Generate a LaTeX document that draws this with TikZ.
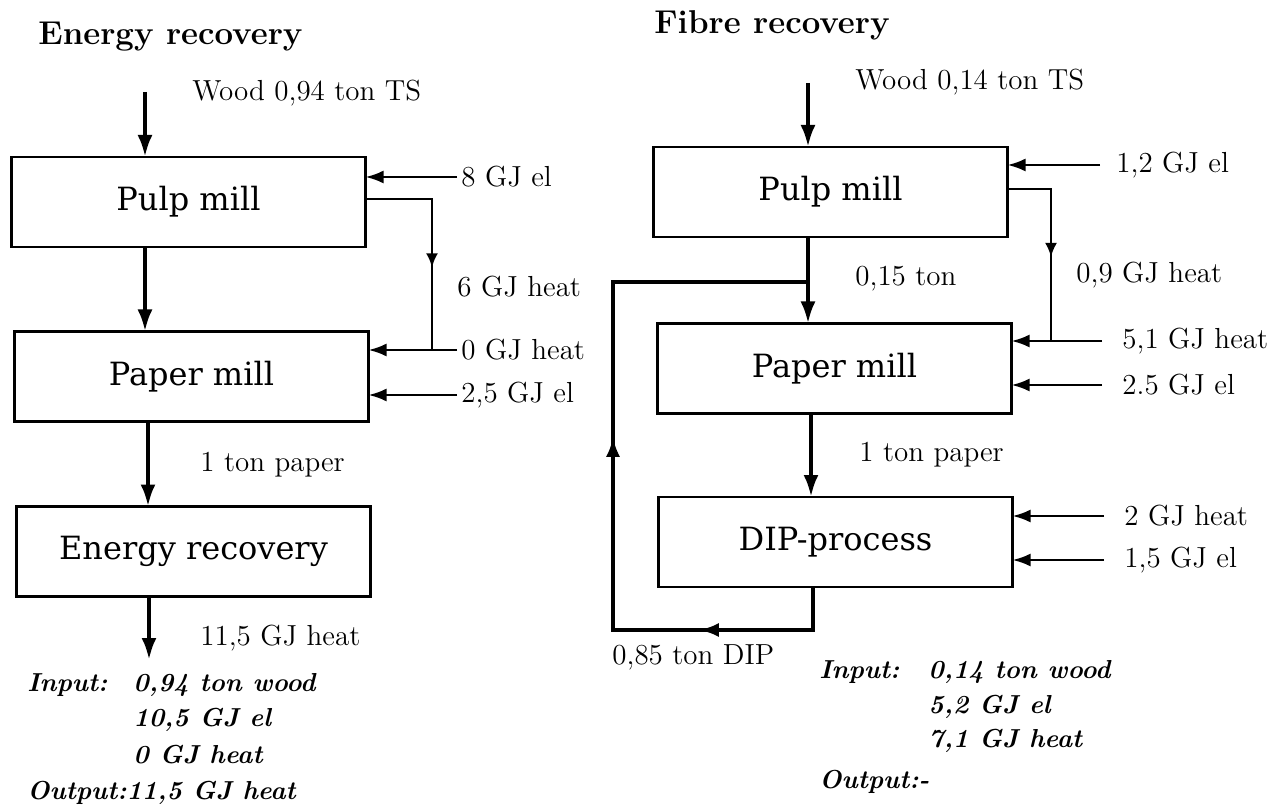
\documentclass[tikz,border=0pt]{standalone}
\usepackage{fontspec}
\newfontfamily\boxfont{DejaVu Serif}
\usepackage{tikz}
\usetikzlibrary{arrows.meta, calc}
\usetikzlibrary{decorations.markings}
\tikzset{%
  ->-/.style={decoration={markings, mark=at position #1 with {\arrow{Latex[length=7pt, width=6pt]}}},
              postaction={decorate}},
  loopflow/.style={decoration={markings,
              mark=at position 0.2 with {\arrow{Latex[length=10pt, width=7pt]}},
              mark=at position 0.555 with {\arrow{Latex[length=10pt, width=7pt]}}},
              postaction={decorate}},
  box/.style={draw, line width=1.2pt, inner sep=0pt, outer sep=0pt,
              minimum width=177pt, minimum height=45pt, font=\boxfont\fontsize{16}{19}\selectfont},
  lbl/.style={inner sep=2pt, anchor=west, font=\fontsize{14.5}{17}\selectfont},
  ttl/.style={inner sep=0pt, anchor=west, font=\fontsize{16.5}{19}\selectfont\bfseries},
  res/.style={inner sep=0pt, anchor=west, font=\fontsize{13}{15}\selectfont\bfseries\itshape},
  flow/.style={line width=2pt, -{Latex[length=11pt, width=7.5pt]}},
  feed/.style={line width=1.3pt, -{Latex[length=9pt, width=6.5pt]}},
  pipe/.style={line width=1.2pt},
}

\begin{document}
\begin{tikzpicture}[x=0.5pt, y=-0.5pt]
    \useasboundingbox (0,0) rectangle (1274,812);

    %energy recovery
    \node[ttl] (titleL) at (38,37) {Energy recovery};
    \node[box] (pulpL) at (188.5,202) {Pulp mill};
    \node[box] (paperL) at (191.5,376.5) {Paper mill};
    \node[box] (enerL) at (193.5,551.5) {Energy recovery};

    \node[lbl] (woodL) at (188,93) {Wood 0,94 ton TS};
    \coordinate (inL) at (145,92);
    \draw[flow] (inL) -- (inL |- pulpL.north);
    \draw[flow] (pulpL.south -| inL) -- (paperL.north -| inL);
    \draw[flow] ([xshift=1.5pt]paperL.south -| inL) -- ([xshift=1.5pt]enerL.north -| inL);
    \coordinate (outL) at (149,660);
    \draw[flow] (enerL.south -| outL) -- (outL);
    \node[lbl] (paper1L) at (196,465) {1 ton paper};
    \node[lbl] (heat115) at (196,638) {11,5 GJ heat};

    %side inputs
    \node[lbl] (el8) at (457,177) {8 GJ el};
    \draw[feed] (el8.west) -- (el8.west -| pulpL.east);
    \node[lbl] (heat0) at (457,350) {0 GJ heat};
    \draw[feed] (heat0.west) -- (heat0.west -| paperL.east);
    \node[lbl] (el25L) at (457,395) {2,5 GJ el};
    \draw[feed] (el25L.west) -- (el25L.west -| paperL.east);
    \coordinate (tapL) at (432,350);
    \draw[pipe, ->-=0.62] ([yshift=1.5pt]pulpL.east) -| (tapL);
    \node[lbl] (heat6) at (453,287) {6 GJ heat};

    \node[res] (inpL) at (27,685) {Input:};
    \node[res] (woodsumL) at (133,685) {0,94 ton wood};
    \node[res] (elsumL) at (133,720) {10,5 GJ el};
    \node[res] (heatsumL) at (133,755) {0 GJ heat};
    \node[res] (outpL) at (27,793) {Output:11,5 GJ heat};

    %fibre recovery
    \node[ttl] (titleR) at (654,25) {Fibre recovery};
    \node[box] (pulpR) at (830.5,192) {Pulp mill};
    \node[box] (paperR) at (834.5,368.5) {Paper mill};
    \node[box] (dipR) at (835.5,542) {DIP-process};

    \node[lbl] (woodR) at (851,82) {Wood 0,14 ton TS};
    \coordinate (inR) at (808,83);
    \draw[flow] (inR) -- (inR |- pulpR.north);
    \draw[flow] (pulpR.south -| inR) -- (paperR.north -| inR);
    \draw[flow] ([xshift=1.5pt]paperR.south -| inR) -- ([xshift=1.5pt]dipR.north -| inR);
    \node[lbl] (ton015) at (851,279) {0,15 ton};
    \node[lbl] (paper1R) at (855,455) {1 ton paper};

    %recycled fibre
    \coordinate (loopA) at (613,630);
    \coordinate (loopB) at (613,282);
    \draw[line width=2pt, loopflow] ([xshift=2.5pt]dipR.south -| inR) |- (loopA) -- (loopB) -- (loopB -| inR);
    \node[lbl] (dip085) at (608,657) {0,85 ton DIP};

    %side inputs
    \node[lbl] (el12) at (1112,165) {1,2 GJ el};
    \draw[feed] ([xshift=-6pt]el12.west) -- (el12.west -| pulpR.east);
    \node[lbl] (heat51) at (1118,341) {5,1 GJ heat};
    \draw[feed] ([xshift=-8pt]heat51.west) -- (heat51.west -| paperR.east);
    \node[lbl] (el25R) at (1118,385) {2.5 GJ el};
    \draw[feed] ([xshift=-8pt]el25R.west) -- (el25R.west -| paperR.east);
    \coordinate (tapR) at (1051,341);
    \draw[pipe, ->-=0.57] ([yshift=1.5pt]pulpR.east) -| (tapR);
    \node[lbl] (heat09) at (1072,275) {0,9 GJ heat};
    \node[lbl] (heat2) at (1120,516) {2 GJ heat};
    \draw[feed] ([xshift=-8pt]heat2.west) -- (heat2.west -| dipR.east);
    \node[lbl] (el15) at (1120,560) {1,5 GJ el};
    \draw[feed] ([xshift=-8pt]el15.west) -- (el15.west -| dipR.east);

    \node[res] (inpR) at (819,672) {Input:};
    \node[res] (woodsumR) at (928,672) {0,14 ton wood};
    \node[res] (elsumR) at (928,707) {5,2 GJ el};
    \node[res] (heatsumR) at (928,741) {7,1 GJ heat};
    \node[res] (outpR) at (819,782) {Output:-};
\end{tikzpicture}
\end{document}
